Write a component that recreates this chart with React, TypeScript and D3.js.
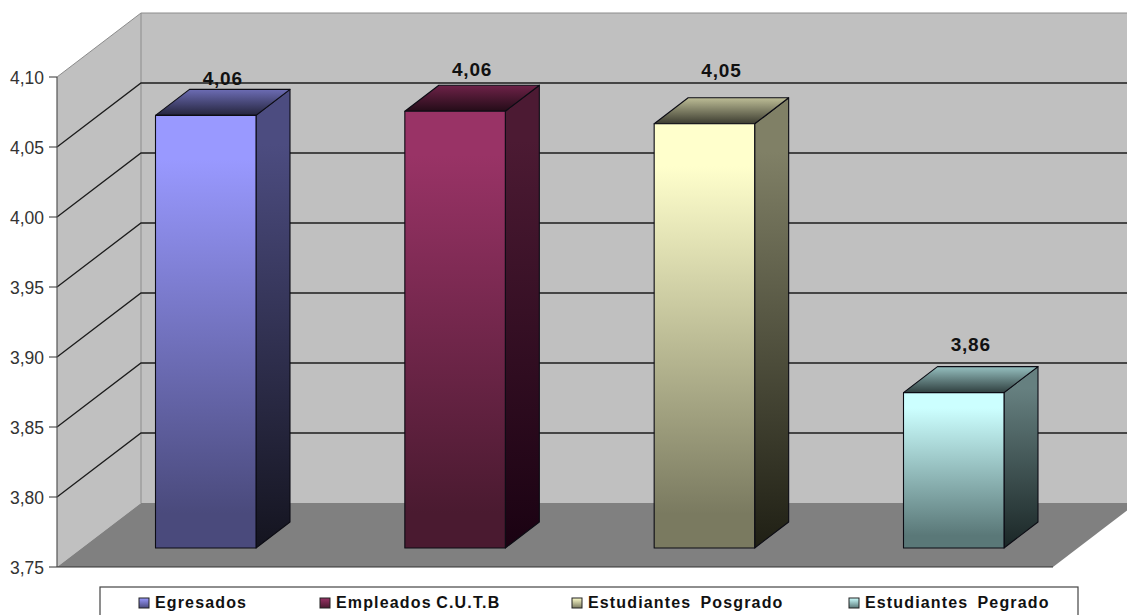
import React from "react";
import * as d3 from "d3";

const categories = ["Egresados", "Empleados C.U.T.B", "Estudiantes  Posgrado", "Estudiantes  Pegrado"];
const values = [4.059, 4.062, 4.053, 3.861];
const axisTicks = [3.75, 3.8, 3.85, 3.9, 3.95, 4.0, 4.05, 4.1];
const frontTop = ["#9999ff", "#993366", "#ffffcc", "#ccffff"];
const frontBottom = ["#4a4a7c", "#4a1a30", "#7a7a60", "#5a7878"];
const sideTop = ["#4c4c80", "#4c1a33", "#808066", "#668080"];
const sideBottom = ["#14141f", "#1a0212", "#1f1f14", "#1a2626"];
const capBack = ["#6c6cb4", "#6e2248", "#bdbd96", "#96c0c0"];
const capFront = ["#24243c", "#240c18", "#3c3c30", "#304040"];
const labelBaselines = [85, 76, 77, 351];
const legendSwatchX = [139, 320, 572, 849];

const W = 1127;
const H = 615;
const DEPTH_X = 84;
const DEPTH_Y = 64;
const BAR_DEPTH_X = 34;
const BAR_DEPTH_Y = 26;
const BAR_WIDTH = 100.5;

const frontAxisX = 57;
const floorRightX = 1053;
// Wall scale on the front plane; bars stand further back on the floor, so their scale is shifted up.
const y = d3.scaleLinear().domain([3.75, 4.1]).range([567, 77]);
const barY = d3.scaleLinear().domain([3.75, 4.1]).range([548, 58]);
const barX = d3.scaleLinear().domain([0, 3]).range([155.5, 903.5]);
const tickFormat = (v: number) => d3.format(".2f")(v).replace(".", ",");

const poly = (pts: [number, number][]) => d3.line()(pts) + "Z";
const sans = "'Liberation Sans', Arial, sans-serif";

export default function App() {
  const topTick = y(4.1);
  const floorFront = y(3.75);
  const backX = frontAxisX + DEPTH_X;
  const base = barY(3.75);
  return (
    <svg width={W} height={H} viewBox={`0 0 ${W} ${H}`} style={{ position: "absolute", left: 0, top: 0, background: "#fff" }}>
      <defs>
        {categories.map((_, i) => {
          const top = barY(values[i]);
          return (
            <React.Fragment key={i}>
              <linearGradient id={`front${i}`} x1="0" x2="0" y1="0" y2="1">
                <stop offset="0" stopColor={frontTop[i]} />
                <stop offset="0.1" stopColor={frontTop[i]} />
                <stop offset="0.92" stopColor={frontBottom[i]} />
                <stop offset="1" stopColor={frontBottom[i]} />
              </linearGradient>
              <linearGradient id={`side${i}`} x1="0" x2="0" y1="0" y2="1">
                <stop offset="0" stopColor={sideTop[i]} />
                <stop offset="0.12" stopColor={sideTop[i]} />
                <stop offset="1" stopColor={sideBottom[i]} />
              </linearGradient>
              <linearGradient id={`cap${i}`} gradientUnits="userSpaceOnUse" x1="0" x2="0" y1={top - BAR_DEPTH_Y} y2={top}>
                <stop offset="0" stopColor={capBack[i]} />
                <stop offset="1" stopColor={capFront[i]} />
              </linearGradient>
              <linearGradient id={`swatch${i}`} x1="0" x2="0" y1="0" y2="1">
                <stop offset="0" stopColor={frontTop[i]} />
                <stop offset="1" stopColor={frontBottom[i]} />
              </linearGradient>
            </React.Fragment>
          );
        })}
      </defs>

      {/* back wall, side wall and floor */}
      <rect x={backX} y={topTick - DEPTH_Y} width={W - backX} height={floorFront - topTick} fill="#c0c0c0" />
      <path d={poly([[frontAxisX, topTick], [backX, topTick - DEPTH_Y], [backX, floorFront - DEPTH_Y], [frontAxisX, floorFront]])} fill="#c0c0c0" />
      <path
        d={poly([[frontAxisX, floorFront], [backX, floorFront - DEPTH_Y], [floorRightX + DEPTH_X, floorFront - DEPTH_Y], [floorRightX, floorFront]])}
        fill="#808080"
      />
      <path d={`M${frontAxisX},${topTick}L${backX},${topTick - DEPTH_Y}H${W}`} fill="none" stroke="#8c8c8c" strokeWidth={1} />
      <line x1={backX} x2={backX} y1={topTick - DEPTH_Y} y2={floorFront - DEPTH_Y} stroke="#8c8c8c" strokeWidth={1} />

      {/* gridlines run along the side wall and across the back wall */}
      {axisTicks.slice(1, -1).map((t) => (
        <path
          key={t}
          d={`M${frontAxisX},${y(t)}L${backX},${y(t) - DEPTH_Y}H${W}`}
          fill="none"
          stroke="#1c1c1c"
          strokeWidth={1.3}
        />
      ))}

      {/* value axis */}
      <line x1={frontAxisX} x2={frontAxisX} y1={topTick} y2={floorFront} stroke="#555" strokeWidth={1.2} />
      <line x1={frontAxisX} x2={floorRightX} y1={floorFront} y2={floorFront} stroke="#333" strokeWidth={1.2} />
      {axisTicks.map((t) => (
        <g key={t}>
          <line x1={49} x2={frontAxisX} y1={y(t)} y2={y(t)} stroke="#333" strokeWidth={1} />
          <text x={44} y={y(t) + 7} textAnchor="end" fontFamily={sans} fontSize={17.5} fill="#333">
            {tickFormat(t)}
          </text>
        </g>
      ))}

      {/* bars */}
      {categories.map((_, i) => {
        const x0 = barX(i);
        const x1 = x0 + BAR_WIDTH;
        const top = barY(values[i]);
        return (
          <g key={i} stroke="#0c0c14" strokeWidth={1.1} strokeLinejoin="round">
            <path
              d={poly([[x1, top], [x1 + BAR_DEPTH_X, top - BAR_DEPTH_Y], [x1 + BAR_DEPTH_X, base - BAR_DEPTH_Y], [x1, base]])}
              fill={`url(#side${i})`}
            />
            <path
              d={poly([[x0, top], [x0 + BAR_DEPTH_X, top - BAR_DEPTH_Y], [x1 + BAR_DEPTH_X, top - BAR_DEPTH_Y], [x1, top]])}
              fill={`url(#cap${i})`}
            />
            <rect x={x0} y={top} width={BAR_WIDTH} height={base - top} fill={`url(#front${i})`} />
          </g>
        );
      })}

      {/* value labels */}
      {categories.map((_, i) => (
        <text
          key={i}
          x={barX(i) + BAR_WIDTH / 2 + 17}
          y={labelBaselines[i]}
          textAnchor="middle"
          fontFamily={sans}
          fontWeight="bold"
          fontSize={19}
          letterSpacing={0.8}
          fill="#111"
        >
          {tickFormat(values[i])}
        </text>
      ))}

      {/* legend */}
      <rect x={100} y={587} width={978} height={40} fill="#fff" stroke="#444" strokeWidth={1.2} />
      {categories.map((c, i) => (
        <g key={c}>
          <rect x={legendSwatchX[i]} y={598} width={10} height={10} fill={`url(#swatch${i})`} stroke="#222" strokeWidth={1} />
          <text
            x={legendSwatchX[i] + 16}
            y={607.5}
            fontFamily={sans}
            fontWeight="bold"
            fontSize={16}
            letterSpacing={1.15}
            wordSpacing={-1}
            fill="#111"
            style={{ whiteSpace: "pre" }}
          >
            {c}
          </text>
        </g>
      ))}
    </svg>
  );
}
